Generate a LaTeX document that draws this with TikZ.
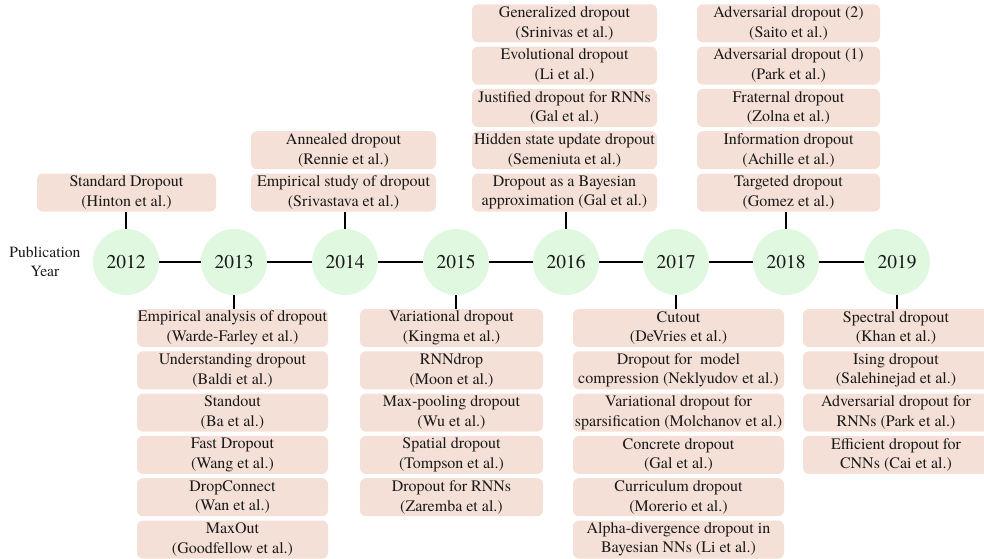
\documentclass[tikz,border=0pt]{standalone}
\usepackage{fontspec}
\setmainfont{texgyretermes-regular.otf}
\definecolor{boxpink}{RGB}{244,224,215}
\definecolor{yeargreen}{RGB}{224,248,224}
\definecolor{txt}{RGB}{25,25,25}
\begin{document}
\begin{tikzpicture}[x=1pt,y=-1pt,
  pbox/.style={fill=boxpink, rounded corners=6pt, minimum height=38pt, inner sep=0pt, align=center, text=txt,
    font=\fontsize{16}{19.5}\selectfont},
  yearnode/.style={circle, fill=yeargreen, minimum size=66pt, inner sep=0pt, text=txt, font=\fontsize{19.5}{22}\selectfont},
  link/.style={draw=black, line width=1.6pt}]
\useasboundingbox (0,0) rectangle (984,558);
% year circles
\node[yearnode] (y12) at (126,262) {2012};
\node[yearnode] (y13) at (234,262) {2013};
\node[yearnode] (y14) at (345,262) {2014};
\node[yearnode] (y15) at (456,262) {2015};
\node[yearnode] (y16) at (566,262) {2016};
\node[yearnode] (y17) at (676,262) {2017};
\node[yearnode] (y18) at (786,262) {2018};
\node[yearnode] (y19) at (897,262) {2019};
\foreach \a/\b in {y12/y13,y13/y14,y14/y15,y15/y16,y16/y17,y17/y18,y18/y19}
  \draw[link, line width=2pt] (\a) -- (\b);
\node[align=center, text=txt, font=\fontsize{15.6}{19}\selectfont] (pub) at (45,262) {Publication\\Year};
% 2012
\begin{scope}[every node/.append style={pbox, minimum width=179pt}]
\node (a1) at (126.5,192.5) {Standard Dropout\\(Hinton et al.)};
\end{scope}
% 2014
\begin{scope}[every node/.append style={pbox, minimum width=185pt}]
\node (c1) at (343.5,192.5) {Empirical study of dropout\\(Srivastava et al.)};
\node (c2) at (343.5,150.2) {Annealed dropout\\(Rennie et al.)};
\end{scope}
% 2016
\begin{scope}[every node/.append style={pbox, minimum width=185pt}]
\node (e1) at (564.5,192.5) {Dropout as a Bayesian\\approximation (Gal et al.)};
\node (e2) at (564.5,150.2) {Hidden state update dropout\\(Semeniuta et al.)};
\node (e3) at (564.5,107.9) {Justified dropout for RNNs\\(Gal et al.)};
\node (e4) at (564.5,65.6) {Evolutional dropout\\(Li et al.)};
\node (e5) at (564.5,23.3) {Generalized dropout\\(Srinivas et al.)};
\end{scope}
% 2018
\begin{scope}[every node/.append style={pbox, minimum width=183pt}]
\node (g1) at (788.5,192.5) {Targeted dropout\\(Gomez et al.)};
\node (g2) at (788.5,150.2) {Information dropout\\(Achille et al.)};
\node (g3) at (788.5,107.9) {Fraternal dropout\\(Zolna et al.)};
\node (g4) at (788.5,65.6) {Adversarial dropout (1)\\(Park et al.)};
\node (g5) at (788.5,23.3) {Adversarial dropout (2)\\(Saito et al.)};
\end{scope}
% 2013
\begin{scope}[every node/.append style={pbox, minimum width=191pt}]
\node (b1) at (232.5,328) {Empirical analysis of dropout\\(Warde-Farley et al.)};
\node (b2) at (232.5,370.3) {Understanding dropout\\(Baldi et al.)};
\node (b3) at (232.5,412.6) {Standout\\(Ba et al.)};
\node (b4) at (232.5,454.9) {Fast Dropout\\(Wang et al.)};
\node (b5) at (232.5,497.2) {DropConnect\\(Wan et al.)};
\node (b6) at (232.5,539.5) {MaxOut\\(Goodfellow et al.)};
\end{scope}
% 2015
\begin{scope}[every node/.append style={pbox, minimum width=183pt}]
\node (d1) at (451.5,328) {Variational dropout\\(Kingma et al.)};
\node (d2) at (451.5,370.3) {RNNdrop\\(Moon et al.)};
\node (d3) at (451.5,412.6) {Max-pooling dropout\\(Wu et al.)};
\node (d4) at (451.5,454.9) {Spatial dropout\\(Tompson et al.)};
\node (d5) at (451.5,497.2) {Dropout for RNNs\\(Zaremba et al.)};
\end{scope}
% 2017
\begin{scope}[every node/.append style={pbox, minimum width=211pt}]
\node (f1) at (678.5,328) {Cutout\\(DeVries et al.)};
\node (f2) at (678.5,370.3) {Dropout for\ \ model\\compression (Neklyudov et al.)};
\node (f3) at (678.5,412.6) {Variational dropout for\\sparsification (Molchanov et al.)};
\node (f4) at (678.5,454.9) {Concrete dropout\\(Gal et al.)};
\node (f5) at (678.5,497.2) {Curriculum dropout\\(Morerio et al.)};
\node (f6) at (678.5,539.5) {Alpha-divergence dropout in\\Bayesian NNs (Li et al.)};
\end{scope}
% 2019
\begin{scope}[every node/.append style={pbox, minimum width=186pt}]
\node (h1) at (896,328) {Spectral dropout\\(Khan et al.)};
\node (h2) at (896,370.3) {Ising dropout\\(Salehinejad et al.)};
\node (h3) at (896,412.6) {Adversarial dropout for\\RNNs (Park et al.)};
\node (h4) at (896,454.9) {Efficient dropout for\\CNNs (Cai et al.)};
\end{scope}
% connectors
\draw[link] (y12.north) -- (y12.north |- a1.south);
\draw[link] (y14.north) -- (y14.north |- c1.south);
\draw[link] (y16.north) -- (y16.north |- e1.south);
\draw[link] (y18.north) -- (y18.north |- g1.south);
\draw[link] (y13.south) -- (y13.south |- b1.north);
\draw[link] (y15.south) -- (y15.south |- d1.north);
\draw[link] (y17.south) -- (y17.south |- f1.north);
\draw[link] (y19.south) -- (y19.south |- h1.north);
\end{tikzpicture}
\end{document}
